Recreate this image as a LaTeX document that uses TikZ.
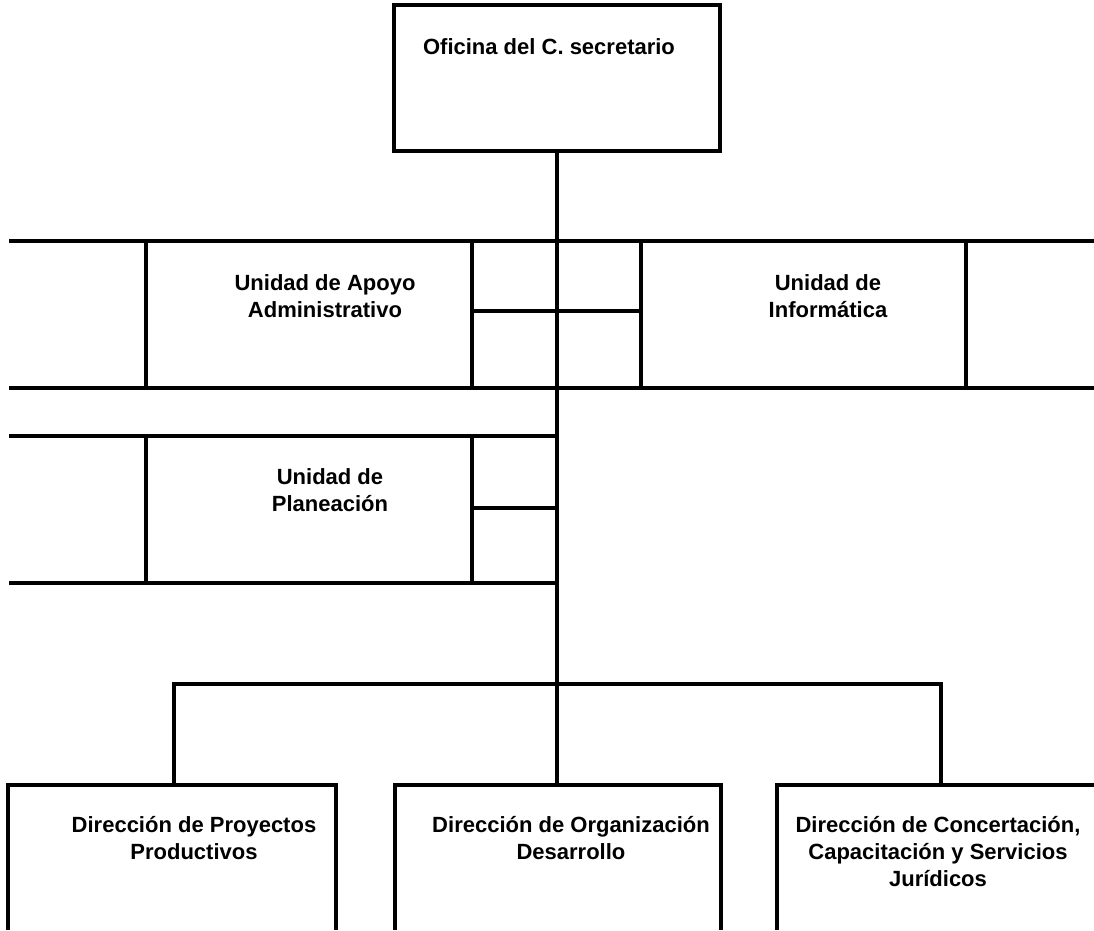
\documentclass[tikz,border=0pt]{standalone}
\usepackage{fontspec}
\setmainfont{Liberation Sans}
\begin{document}
\begin{tikzpicture}[x=1pt,y=-1pt,
  ln/.style={line width=3.3pt,line join=miter},
  cell/.style={draw,line width=3.3pt,inner sep=0pt,outer sep=0pt,minimum height=147pt},
  lbl/.style={font=\bfseries\fontsize{22}{27}\selectfont,align=center,inner sep=0pt}]
\useasboundingbox (0,0) rectangle (1094,930);
% top box
\node[cell,minimum width=326pt,minimum height=146pt] (of) at (557,78) {};
\node[lbl] (ofT) at (549,47) {Oficina del C. secretario};
% row 1
\node[cell,minimum width=326pt] (apoyo) at (309,314.5) {};
\node[cell,minimum width=325pt] (info) at (803.5,314.5) {};
\draw[ln] (9,241) -- (apoyo.north west);
\draw[ln] (apoyo.north east) -- (info.north west);
\draw[ln] (info.north east) -- (1094,241);
\draw[ln] (9,388) -- (apoyo.south west);
\draw[ln] (apoyo.south east) -- (info.south west);
\draw[ln] (info.south east) -- (1094,388);
\draw[ln] (apoyo.north east |- 0,311) -- (info.north west |- 0,311);
\node[lbl] (apoyoT) at (325,296.5) {Unidad de Apoyo\\Administrativo};
\node[lbl] (infoT) at (828,296.5) {Unidad de\\Informática};
% row 2
\node[cell,minimum width=326pt] (plan) at (309,509.5) {};
\coordinate (p1) at (557,436);
\coordinate (p2) at (557,583);
\coordinate (p3) at (557,508);
\draw[ln] (9,436) -- (plan.north west);
\draw[ln] (plan.north east) -- (p1);
\draw[ln] (9,583) -- (plan.south west);
\draw[ln] (plan.south east) -- (p2);
\draw[ln] (plan.north east |- p3) -- (p3);
\node[lbl] (planT) at (330,490) {Unidad de\\Planeación};
% trunk and bus
\coordinate (bus) at (557,684);
\coordinate (b1) at (174,684);
\coordinate (b3) at (941,684);
\coordinate (d1) at (174,785);
\coordinate (d2) at (557,785);
\coordinate (d3) at (941,785);
\draw[ln] (of.south) -- (d2);
\draw[ln] (d1) -- (b1) -- (b3) -- (d3);
% bottom boxes (open at the bottom)
\draw[ln] (8,930) -- (8,785) -- (336,785) -- (336,930);
\draw[ln] (395,930) -- (395,785) -- (721,785) -- (721,930);
\draw[ln] (777,930) -- (777,785) -- (1094,785);
\node[lbl] (dir1) at (194,838) {Dirección de Proyectos\\Productivos};
\node[lbl] (dir2) at (571,838) {Dirección de Organización\\Desarrollo};
\node[lbl] (dir3) at (938,852) {Dirección de Concertación,\\Capacitación y Servicios\\Jurídicos};
\end{tikzpicture}
\end{document}
